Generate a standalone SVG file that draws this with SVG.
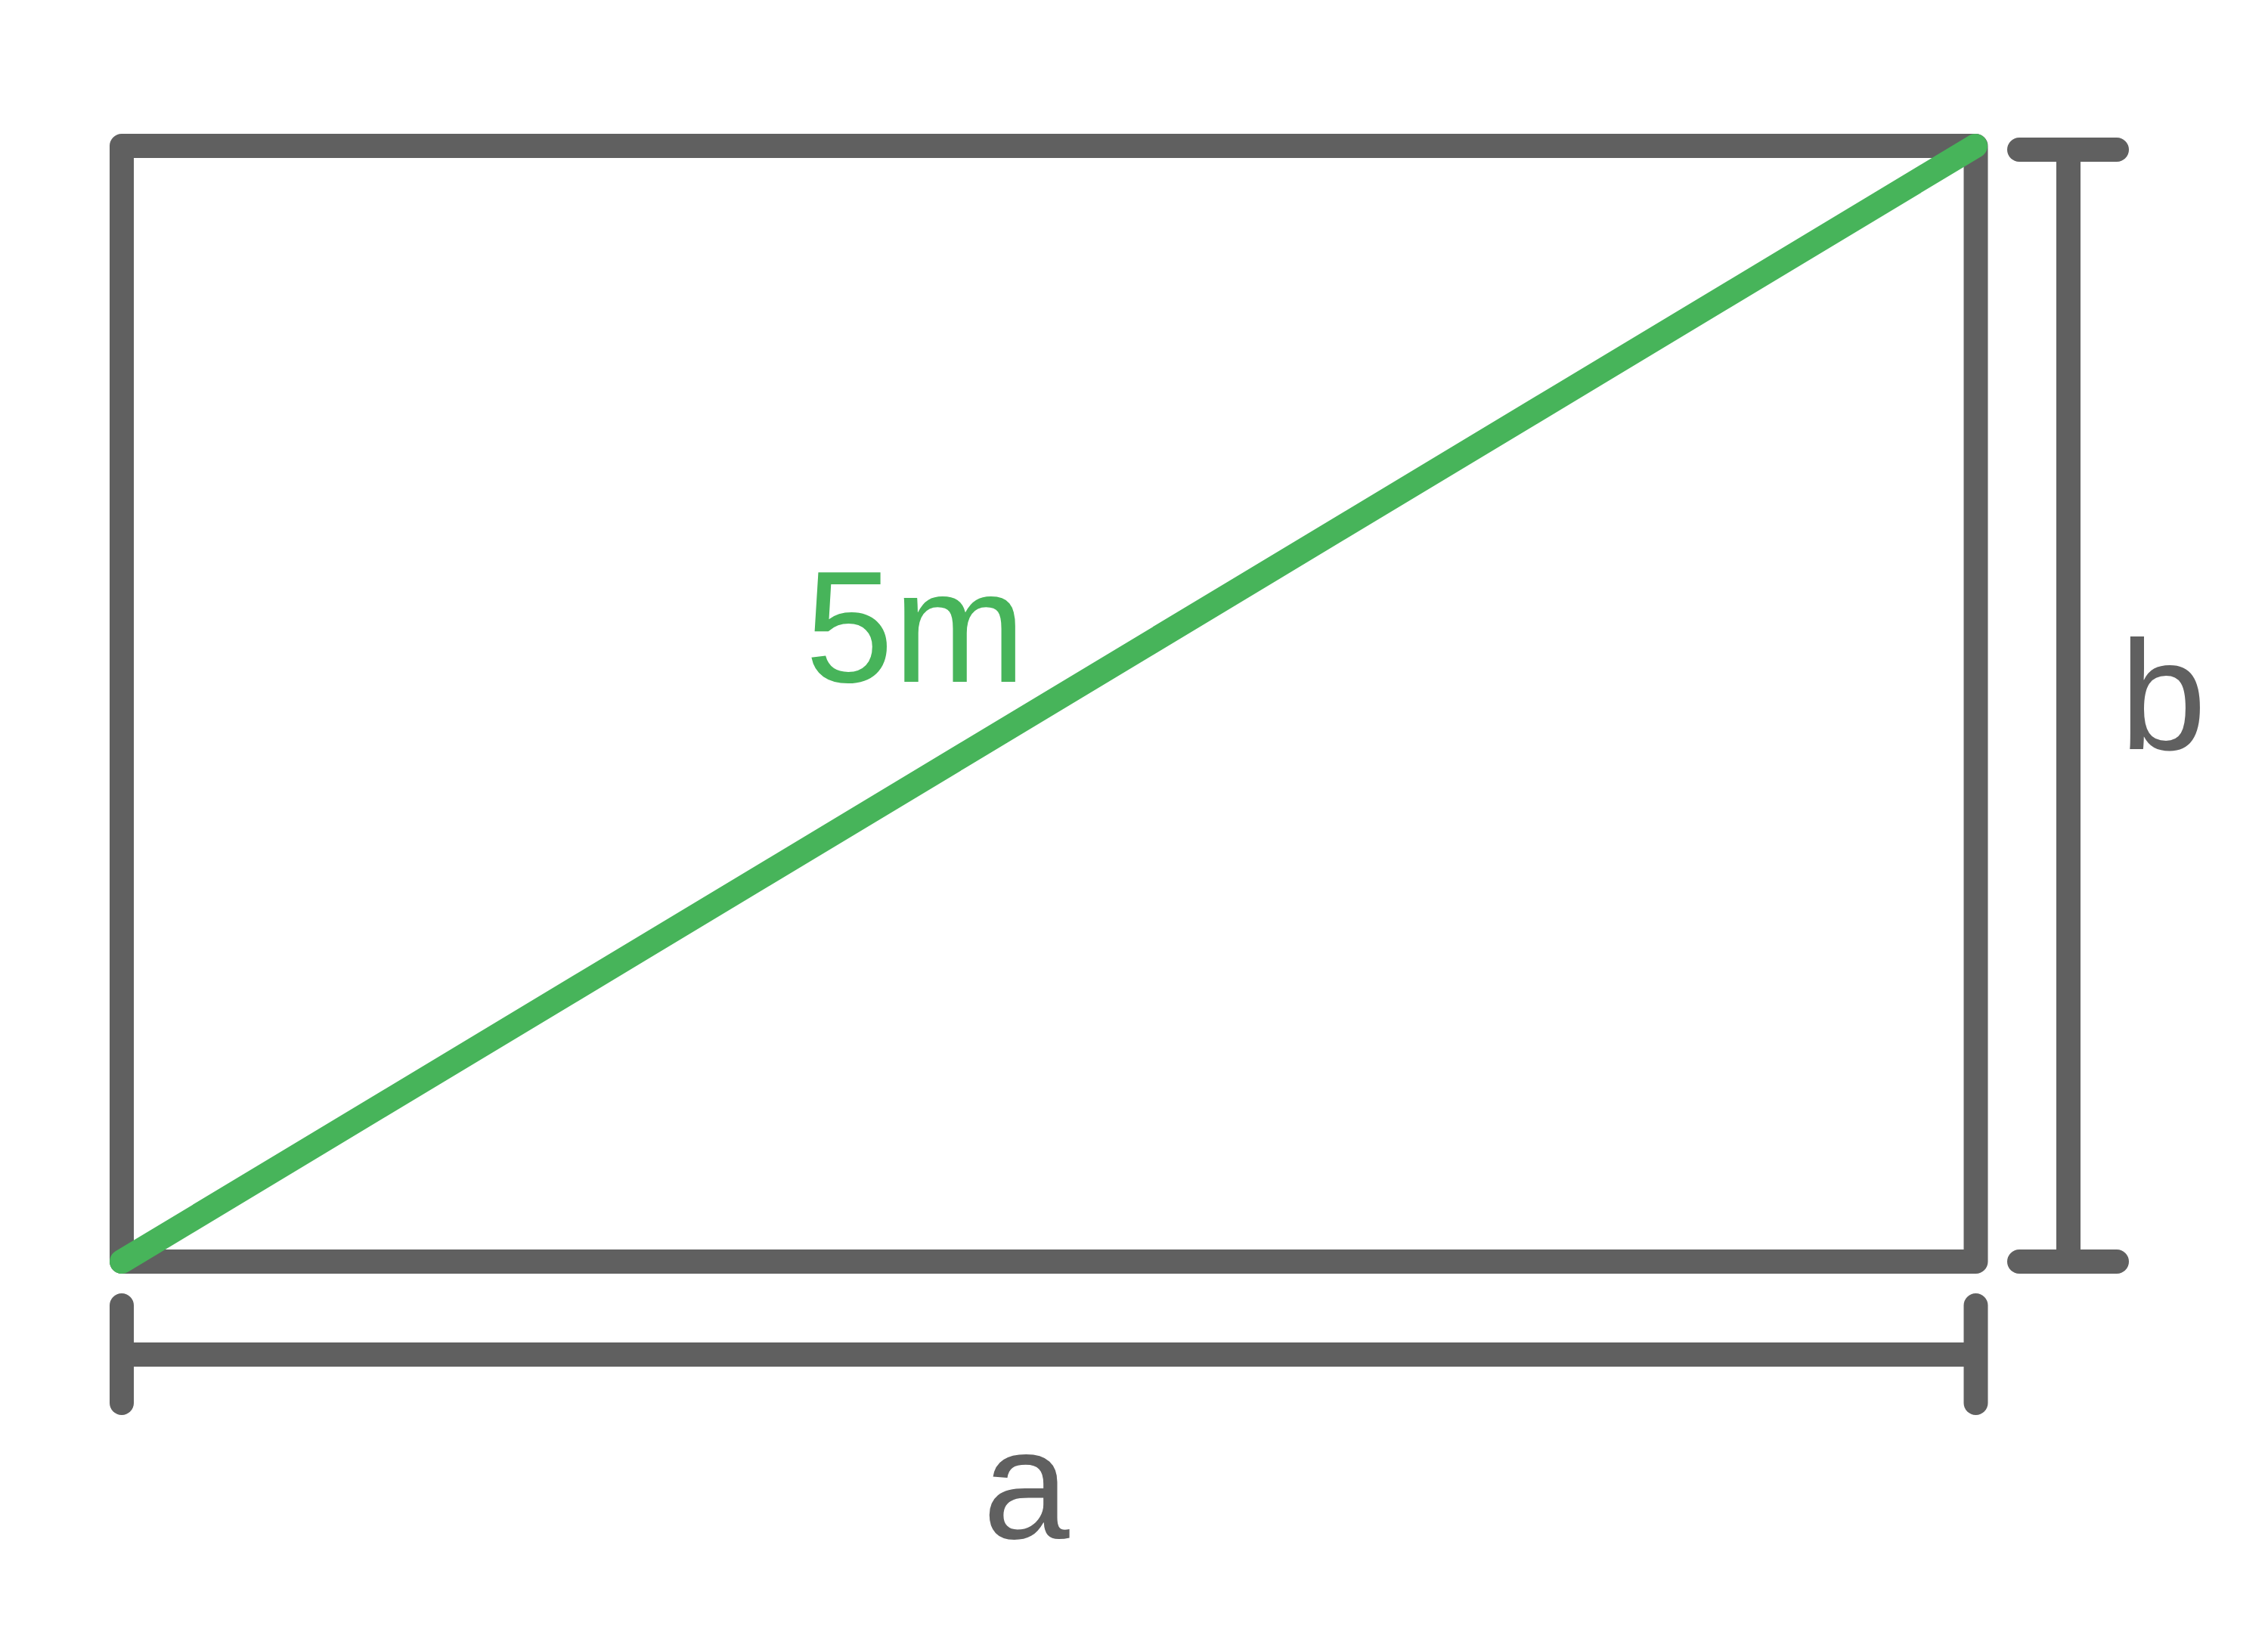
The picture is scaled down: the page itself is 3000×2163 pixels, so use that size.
<svg xmlns="http://www.w3.org/2000/svg" width="3000" height="2163" viewBox="0 0 3000 2163">
<style>
.g{stroke:#606060;stroke-width:32;fill:none;stroke-linecap:round;stroke-linejoin:round}
.gs{stroke:#606060;stroke-width:32;fill:none;stroke-linecap:butt}
.d{stroke:#47B45A;stroke-width:32;fill:none;stroke-linecap:round}
.t{font-family:"Liberation Sans",Arial,sans-serif;fill:#606060}
.tg{font-family:"Liberation Sans",Arial,sans-serif;fill:#47B45A}
</style>
<rect width="3000" height="2163" fill="#ffffff"/>
<g id="rectangle">
<rect class="g" x="161" y="193" width="2452.5" height="1476"/>
</g>
<g id="connectors">
<g id="dim-b">
<line class="gs" x1="2736" y1="198" x2="2736" y2="1669"/>
<line class="g" x1="2671" y1="198" x2="2800" y2="198"/>
<line class="g" x1="2671" y1="1669" x2="2800" y2="1669"/>
</g>
<g id="dim-a">
<line class="gs" x1="161" y1="1792" x2="2613.5" y2="1792"/>
<line class="g" x1="161" y1="1727" x2="161" y2="1856"/>
<line class="g" x1="2613.5" y1="1727" x2="2613.5" y2="1856"/>
</g>
<line id="diagonal" class="d" x1="161" y1="1669" x2="2613" y2="193"/>
</g>
<g id="label-5m"><text class="tg" x="1065" y="902" font-size="210">5m</text></g>
<g id="label-a"><text class="t" x="1300" y="2035" font-size="206">a</text></g>
<g id="label-b"><text class="t" x="2804" y="991" font-size="206">b</text></g>
</svg>
